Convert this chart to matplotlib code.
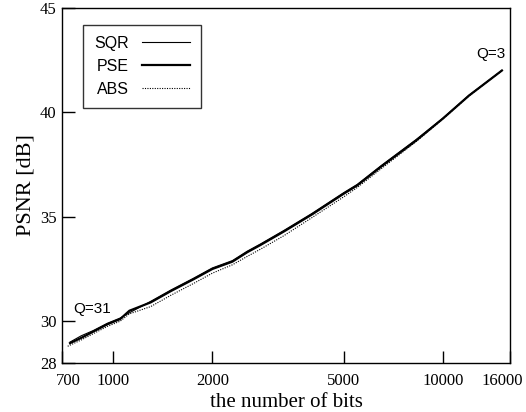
import matplotlib
matplotlib.use('Agg')
import matplotlib.pyplot as plt
from matplotlib.ticker import FixedLocator, FixedFormatter, NullLocator
from matplotlib.transforms import ScaledTranslation

# values
bits = [740, 800, 870, 960, 1050, 1120, 1300, 1500, 1750, 2000, 2300,
        2550, 2800, 3300, 4000, 5000, 5500, 6500, 8300, 10000, 12000, 15100]
sqr = [29.0, 29.3, 29.55, 29.9, 30.15, 30.4, 30.95, 31.5, 32.05, 32.55, 32.9,
       33.35, 33.7, 34.35, 35.15, 36.15, 36.55, 37.45, 38.7, 39.72, 40.82, 42.0]
pse = [28.95, 29.2, 29.5, 29.85, 30.1, 30.5, 30.9, 31.45, 32.0, 32.5, 32.85,
       33.3, 33.65, 34.3, 35.1, 36.1, 36.5, 37.4, 38.65, 39.7, 40.8, 42.0]
abs_bits = [728] + bits[1:]
abs_ = [28.8, 29.1, 29.4, 29.75, 30.0, 30.35, 30.7, 31.25, 31.8, 32.3, 32.7,
        33.1, 33.45, 34.1, 34.95, 35.95, 36.4, 37.3, 38.6, 39.68, 40.78, 42.0]

xticks = [700, 1000, 2000, 5000, 10000, 16000]
yticks = [28, 30, 35, 40, 45]

serif = 'Liberation Serif'
sans = 'Liberation Sans'

fig = plt.figure(figsize=(5.26, 4.12), dpi=100)
ax = fig.add_axes([0.118, 0.119, 0.852, 0.862])

ax.plot(bits, sqr, color='black', lw=0.8, label='SQR')
ax.plot(bits, pse, color='black', lw=1.6, label='PSE')
ax.plot(abs_bits, abs_, color='black', lw=0.8, ls=(0, (1, 1.2)), label='ABS')

ax.set_xscale('log')
ax.set_xlim(700, 16000)
ax.set_ylim(28, 45)
ax.xaxis.set_major_locator(FixedLocator(xticks))
ax.xaxis.set_major_formatter(FixedFormatter([str(t) for t in xticks]))
ax.xaxis.set_minor_locator(NullLocator())
ax.set_yticks(yticks)
ax.tick_params(direction='in', length=9, width=1, labelsize=12)
ax.tick_params(axis='x', pad=7)
ax.tick_params(axis='y', pad=4)
for lab in ax.get_xticklabels() + ax.get_yticklabels():
    lab.set_family(serif)

# nudge the end labels inward like the original
xl = ax.get_xticklabels()
xl[0].set_transform(xl[0].get_transform() + ScaledTranslation(6 / 100, 0, fig.dpi_scale_trans))
xl[-1].set_transform(xl[-1].get_transform() + ScaledTranslation(-8 / 100, 0, fig.dpi_scale_trans))

ax.set_xlabel('the number of bits', family=serif, fontsize=15, labelpad=3)
ax.set_ylabel('PSNR [dB]', family=serif, fontsize=16, labelpad=3)

ax.text(755, 30.4, 'Q=31', family=sans, fontsize=11)
ax.text(12600, 42.6, 'Q=3', family=sans, fontsize=11)

for s in ax.spines.values():
    s.set_linewidth(1.0)

leg = ax.legend(loc='upper left', bbox_to_anchor=(0.047, 0.952), markerfirst=False,
                prop={'family': sans, 'size': 11.5}, frameon=True, fancybox=False,
                edgecolor='black', handlelength=3.0, borderpad=0.7, labelspacing=0.5,
                borderaxespad=0)
leg.get_frame().set_linewidth(1.0)

fig.savefig('out.png', dpi=100)
